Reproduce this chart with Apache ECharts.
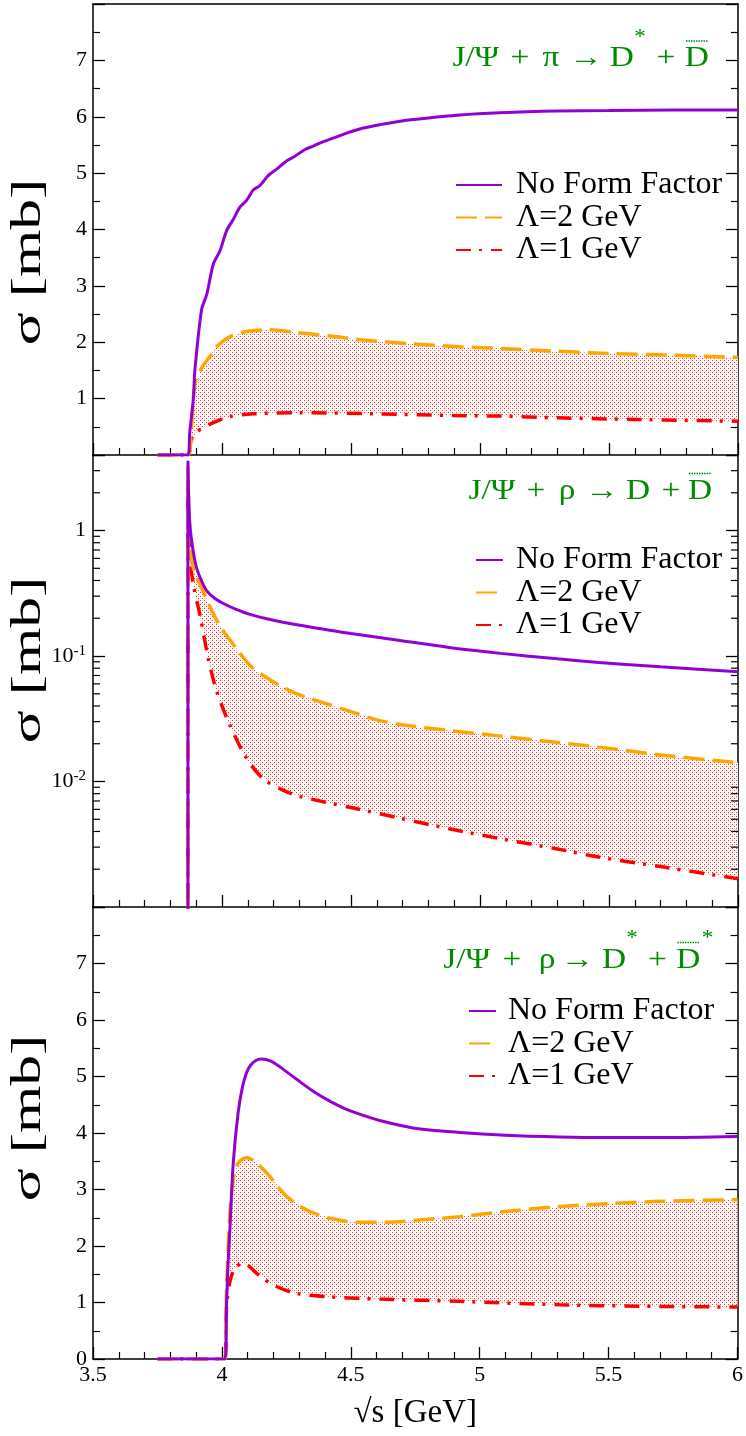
<!DOCTYPE html>
<html><head><meta charset="utf-8">
<script src="https://cdn.jsdelivr.net/npm/echarts@6/dist/echarts.min.js"></script>
<style>html,body{margin:0;padding:0;background:#fff}#c{width:746px;height:1436px}</style>
</head><body><div id="c"></div>
<script>
// ---------- DATA ----------
const seriesNames = ['No Form Factor', 'Λ=2 GeV', 'Λ=1 GeV'];
const xTicks = [3.5, 4, 4.5, 5, 5.5, 6];
const xTickLabels = ['3.5', '4', '4.5', '5', '5.5', '6'];
const yLinTickLabels = ['0', '1', '2', '3', '4', '5', '6', '7'];

// Panel 1: J/Psi + pi -> D* + Dbar
const piNoFF_s = [3.75, 3.868, 3.875, 3.889, 3.895, 3.921, 3.941, 3.966, 3.992, 4.018, 4.044, 4.07, 4.096, 4.121, 4.147, 4.18, 4.212, 4.251, 4.276, 4.322, 4.354, 4.393, 4.431, 4.483, 4.548, 4.612, 4.69, 4.741, 4.922, 5.078, 5.3, 5.5, 5.75, 6.0];
const piNoFF_v = [0, 0, 0.4, 1.0, 1.51, 2.58, 2.85, 3.38, 3.62, 3.98, 4.18, 4.40, 4.52, 4.70, 4.78, 4.96, 5.07, 5.22, 5.28, 5.42, 5.48, 5.56, 5.62, 5.71, 5.80, 5.86, 5.92, 5.95, 6.03, 6.07, 6.10, 6.11, 6.12, 6.12];
const piL2_s = [3.75, 3.868, 3.88, 3.895, 3.921, 3.953, 3.979, 4.031, 4.096, 4.186, 4.29, 4.419, 4.548, 4.741, 4.922, 5.08, 5.3, 5.5, 5.75, 6.0];
const piL2_v = [0, 0, 0.4, 1.25, 1.54, 1.75, 1.92, 2.10, 2.19, 2.22, 2.17, 2.11, 2.04, 1.97, 1.92, 1.89, 1.84, 1.80, 1.77, 1.73];
const piL1_s = [3.75, 3.868, 3.88, 3.9, 3.946, 3.99, 4.03, 4.12, 4.3, 4.6, 4.9, 5.08, 5.3, 5.6, 6.0];
const piL1_v = [0, 0, 0.27, 0.4, 0.53, 0.62, 0.68, 0.73, 0.75, 0.73, 0.70, 0.69, 0.66, 0.63, 0.60];

// Panel 2: J/Psi + rho -> D + Dbar (log scale)
const rhoDD_noFF_s = [3.868, 3.868, 3.871, 3.876, 3.883, 3.892, 3.902, 3.92, 3.941, 3.97, 4.005, 4.05, 4.109, 4.2, 4.302, 4.4, 4.5, 4.69, 4.88, 5.08, 5.3, 5.46, 5.7, 6.0];
const rhoDD_noFF_v = [1e-6, 3.6, 1.8, 1.09, 0.81, 0.62, 0.50, 0.40, 0.33, 0.29, 0.262, 0.238, 0.215, 0.193, 0.176, 0.163, 0.151, 0.133, 0.117, 0.105, 0.095, 0.089, 0.082, 0.075];
const rhoDD_L2_s = [3.868, 3.868, 3.872, 3.878, 3.889, 3.926, 3.97, 3.999, 4.057, 4.109, 4.16, 4.225, 4.29, 4.4, 4.5, 4.6, 4.69, 4.88, 5.08, 5.3, 5.46, 5.7, 6.0];
const rhoDD_L2_v = [1e-6, 3.2, 1.4, 0.8, 0.5, 0.33, 0.21, 0.165, 0.114, 0.084, 0.070, 0.058, 0.050, 0.042, 0.036, 0.031, 0.0285, 0.0255, 0.023, 0.0205, 0.0188, 0.0163, 0.0141];
const rhoDD_L1_s = [3.868, 3.868, 3.871, 3.876, 3.89, 3.915, 3.947, 3.98, 4.031, 4.096, 4.16, 4.238, 4.302, 4.5, 4.69, 4.88, 5.08, 5.3, 5.46, 5.7, 6.0];
const rhoDD_L1_v = [1e-6, 2.2, 1.0, 0.59, 0.36, 0.21, 0.095, 0.052, 0.028, 0.0152, 0.0105, 0.0085, 0.0076, 0.0062, 0.0051, 0.0042, 0.0035, 0.0029, 0.0025, 0.0021, 0.00168];

// Panel 3: J/Psi + rho -> D* + Dbar*
const rhoDsDs_noFF_s = [3.75, 4.012, 4.018, 4.024, 4.031, 4.044, 4.063, 4.08, 4.096, 4.11, 4.13, 4.154, 4.19, 4.225, 4.29, 4.354, 4.42, 4.483, 4.55, 4.612, 4.741, 4.922, 5.1, 5.31, 5.5, 5.698, 6.0];
const rhoDsDs_noFF_v = [0, 0, 0.99, 1.7, 2.29, 3.47, 4.36, 4.82, 5.07, 5.19, 5.28, 5.31, 5.27, 5.17, 4.95, 4.74, 4.56, 4.42, 4.31, 4.22, 4.09, 4.01, 3.96, 3.93, 3.92, 3.92, 3.94];
const rhoDsDs_L2_s = [3.75, 4.012, 4.018, 4.031, 4.044, 4.063, 4.096, 4.134, 4.186, 4.251, 4.328, 4.419, 4.535, 4.638, 4.767, 4.922, 5.1, 5.31, 5.5, 5.698, 6.0];
const rhoDsDs_L2_v = [0, 0, 1.22, 2.59, 3.17, 3.47, 3.56, 3.47, 3.23, 2.88, 2.64, 2.49, 2.42, 2.42, 2.46, 2.52, 2.61, 2.70, 2.75, 2.79, 2.82];
const rhoDsDs_L1_s = [3.75, 4.012, 4.018, 4.03, 4.05, 4.083, 4.134, 4.199, 4.29, 4.419, 4.612, 4.922, 5.31, 5.7, 6.0];
const rhoDsDs_L1_v = [0, 0, 0.9, 1.35, 1.6, 1.70, 1.52, 1.31, 1.16, 1.10, 1.06, 1.02, 0.96, 0.93, 0.92];

// ---------- STYLE ----------
const FONT = '"Liberation Serif", "Times New Roman", serif';
const GREEN = '#008C00';
const COLORS = ['#9400D3', '#FFA500', '#FF0000'];
const DASHES = ['solid', [21, 8], [15, 8, 3, 9]];
const WIDTHS = [3, 3.5, 3.5];

function pts(s, v) { return s.map((x, i) => [x, v[i]]); }

function makePattern() {
  const c = document.createElement('canvas');
  c.width = 4; c.height = 4;
  const g = c.getContext('2d');
  g.fillStyle = '#ffffff'; g.fillRect(0, 0, 4, 4);
  g.fillStyle = '#ffd6d6'; g.fillRect(2, 0, 1, 1); g.fillRect(0, 2, 1, 1);
  g.fillStyle = '#ff3030'; g.fillRect(0, 0, 1, 1); g.fillRect(2, 2, 1, 1);
  return c;
}
const pattern = { image: makePattern(), repeat: 'repeat' };

const axisLineStyle = { color: '#000', width: 1.5 };

function xAx(gi, showLabels) {
  return {
    type: 'value', gridIndex: gi, min: 3.5, max: 6, interval: 0.5, position: 'bottom',
    axisLine: { show: true, onZero: false, lineStyle: axisLineStyle },
    axisTick: { show: true, inside: true, length: 12, lineStyle: { color: '#000', width: 1.3 } },
    minorTick: { show: true, splitNumber: 5, length: 7, lineStyle: { color: '#000', width: 1.2 } },
    splitLine: { show: false }, minorSplitLine: { show: false },
    axisLabel: {
      show: showLabels, margin: 5, fontFamily: FONT, fontSize: 22, color: '#000',
      formatter: v => { const i = xTicks.findIndex(t => Math.abs(t - v) < 1e-6); return i >= 0 ? xTickLabels[i] : ''; }
    },
    name: showLabels ? '√s [GeV]' : '', nameLocation: 'middle', nameGap: 38,
    nameTextStyle: { fontFamily: FONT, fontSize: 33, color: '#000' }
  };
}
function yLin(gi, pos, maxLabel) {
  return {
    type: 'value', gridIndex: gi, position: pos, min: 0, max: 8, interval: 1,
    axisLine: { show: true, onZero: false, lineStyle: axisLineStyle },
    axisTick: { show: true, inside: true, length: 12, lineStyle: { color: '#000', width: 1.3 } },
    minorTick: { show: true, splitNumber: 2, length: 7, lineStyle: { color: '#000', width: 1.2 } },
    splitLine: { show: false }, minorSplitLine: { show: false },
    axisLabel: {
      show: pos === 'left', margin: 6, fontFamily: FONT, fontSize: 22, color: '#000',
      formatter: v => { const i = Math.round(v); return (i >= maxLabel[0] && i <= maxLabel[1]) ? yLinTickLabels[i] : ''; }
    }
  };
}
function yLog(gi, pos) {
  return {
    type: 'log', logBase: 10, gridIndex: gi, position: pos, min: 0.001, max: 4,
    axisLine: { show: true, onZero: false, lineStyle: axisLineStyle },
    axisTick: { show: true, inside: true, length: 12, lineStyle: { color: '#000', width: 1.3 } },
    minorTick: { show: false }, splitLine: { show: false }, minorSplitLine: { show: false },
    axisLabel: {
      show: pos === 'left', margin: 7, fontFamily: FONT, fontSize: 22, color: '#000',
      formatter: v => {
        const l = Math.log10(v), e = Math.round(l);
        if (Math.abs(l - e) > 1e-6) return '';
        if (e === 0) return '{b|1}';
        if (e === -1 || e === -2) return '{b|10}{s|' + e + '}';
        return '';
      },
      rich: {
        b: { fontFamily: FONT, fontSize: 22, color: '#000' },
        s: { fontFamily: FONT, fontSize: 15, color: '#000', verticalAlign: 'top', padding: [0, 0, 10, 0] }
      }
    }
  };
}

function lineSeries(k, gi, yi, s, v) {
  return {
    name: seriesNames[k], type: 'line', xAxisIndex: gi, yAxisIndex: yi,
    data: pts(s, v), symbol: 'none', showSymbol: false, smooth: 0.3,
    clip: true, z: 3 + (2 - k),
    lineStyle: { color: COLORS[k], width: WIDTHS[k], type: DASHES[k] },
    itemStyle: { color: COLORS[k] }
  };
}
function bandSeries(gi, yi, upS, upV, loS, loV, from, anchor) {
  return {
    type: 'custom', xAxisIndex: gi, yAxisIndex: yi, silent: true, z: 2, clip: true,
    data: [anchor],
    renderItem: (params, api) => {
      const p = [];
      for (let i = 0; i < upS.length; i++) if (upS[i] >= from[0] && upV[i] >= from[1]) p.push(api.coord([upS[i], upV[i]]));
      for (let i = loS.length - 1; i >= 0; i--) if (loS[i] >= from[0] && loV[i] >= from[1]) p.push(api.coord([loS[i], loV[i]]));
      return { type: 'polygon', shape: { points: p }, style: { fill: pattern, stroke: null } };
    }
  };
}
// minor ticks for log axis (2..9 per decade)
const logMinorTicks = [];
[0.001, 0.01, 0.1, 1].forEach(d => { for (let m = 2; m <= 9; m++) { if (d * m < 4) logMinorTicks.push(d * m); } });
const logTickSeries = {
  type: 'custom', xAxisIndex: 1, yAxisIndex: 2, silent: true, z: 5,
  data: logMinorTicks.map(v => [3.5, v]),
  renderItem: (params, api) => {
    const v = api.value(1);
    const L = api.coord([3.5, v]), R = api.coord([6, v]);
    const st = { stroke: '#000', lineWidth: 1.2 };
    return { type: 'group', children: [
      { type: 'line', shape: { x1: L[0], y1: L[1], x2: L[0] + 7, y2: L[1] }, style: st },
      { type: 'line', shape: { x1: R[0] - 7, y1: R[1], x2: R[0], y2: R[1] }, style: st }
    ] };
  }
};

// ---------- LAYOUT TEXT (titles) ----------
const titles = [
  { pieces: [['J/Ψ', 475.8, 58], ['+', 520, 58], ['π', 551, 58], ['→', 585.8, 58], ['D', 621.7, 58], ['*', 640, 38, 20], ['+', 666, 58], ['D', 696.7, 58]], over: [686, 708, 41] },
  { pieces: [['J/Ψ', 492, 491], ['+', 536, 491], ['ρ', 567, 491], ['→', 602, 491], ['D', 638, 491], ['+', 671, 491], ['D', 700, 491]], over: [689, 711, 473.5] },
  { pieces: [['J/Ψ', 466.7, 960], ['+', 512, 960], ['ρ', 547, 960], ['→', 577.5, 960], ['D', 614, 960], ['*', 632, 939, 20], ['+', 657.5, 960], ['D', 688.3, 960], ['*', 707.5, 939, 20]], over: [677.5, 699, 942.5] }
];
const graphics = [];
titles.forEach(t => {
  t.pieces.forEach(p => graphics.push({ type: 'text', x: p[1], y: p[2], scaleX: 1.15, silent: true,
    style: { text: p[0], font: (p[3] || 29) + 'px "Liberation Serif"', fill: GREEN, align: 'center', verticalAlign: 'middle' } }));
  graphics.push({ type: 'line', silent: true, shape: { x1: t.over[0], y1: t.over[2], x2: t.over[1], y2: t.over[2] }, style: { stroke: GREEN, lineWidth: 1.5, lineDash: [1.5, 1] } });
});
[262, 660, 1118].forEach(y => graphics.push({ type: 'text', x: 29, y: y, rotation: Math.PI / 2, scaleX: 1.45, silent: true,
  style: { text: 'σ [mb]', font: '42px "Liberation Serif"', fill: '#000', align: 'center', verticalAlign: 'middle' } }));

function legendAt(left, top, w, pad) {
  return { data: seriesNames, left: left, top: top, orient: 'vertical', padding: 0, itemWidth: w, itemHeight: 14, itemGap: 0.5,
    selectedMode: false, itemStyle: { opacity: 0 },
    textStyle: { fontFamily: FONT, fontSize: 32, lineHeight: 28, color: '#000', padding: [0, 0, 0, pad] } };
}

const option = {
  animation: false, backgroundColor: '#fff',
  grid: [
    { left: 93, right: 8, top: 4, height: 451 },
    { left: 93, right: 8, top: 455, height: 452 },
    { left: 93, right: 8, top: 907, height: 452 }
  ],
  xAxis: [xAx(0, false), xAx(1, false), xAx(2, true),
    { type: 'value', gridIndex: 0, position: 'top', min: 3.5, max: 6, axisLine: { show: true, onZero: false, lineStyle: axisLineStyle }, axisTick: { show: false }, axisLabel: { show: false }, splitLine: { show: false } }],
  yAxis: [yLin(0, 'left', [1, 7]), yLin(0, 'right', [1, 7]), yLog(1, 'left'), yLog(1, 'right'), yLin(2, 'left', [0, 7]), yLin(2, 'right', [0, 7])],
  legend: [legendAt(455, 169, 46, 9), legendAt(475, 544, 27, 8), legendAt(468, 995, 27, 7)],
  graphic: graphics,
  series: [
    bandSeries(0, 0, piL2_s, piL2_v, piL1_s, piL1_v, [3.868, -1], [4.5, 1]),
    lineSeries(0, 0, 0, piNoFF_s, piNoFF_v),
    lineSeries(1, 0, 0, piL2_s, piL2_v),
    lineSeries(2, 0, 0, piL1_s, piL1_v),
    bandSeries(1, 2, rhoDD_L2_s, rhoDD_L2_v, rhoDD_L1_s, rhoDD_L1_v, [3.869, 1e-4], [4.5, 0.1]),
    logTickSeries,
    lineSeries(0, 1, 2, rhoDD_noFF_s, rhoDD_noFF_v),
    lineSeries(1, 1, 2, rhoDD_L2_s, rhoDD_L2_v),
    lineSeries(2, 1, 2, rhoDD_L1_s, rhoDD_L1_v),
    bandSeries(2, 4, rhoDsDs_L2_s, rhoDsDs_L2_v, rhoDsDs_L1_s, rhoDsDs_L1_v, [4.012, -1], [4.5, 1]),
    lineSeries(0, 2, 4, rhoDsDs_noFF_s, rhoDsDs_noFF_v),
    lineSeries(1, 2, 4, rhoDsDs_L2_s, rhoDsDs_L2_v),
    lineSeries(2, 2, 4, rhoDsDs_L1_s, rhoDsDs_L1_v)
  ]
};
const chart = echarts.init(document.getElementById('c'), null, { renderer: 'canvas', width: 746, height: 1436 });
chart.setOption(option);
</script></body></html>
